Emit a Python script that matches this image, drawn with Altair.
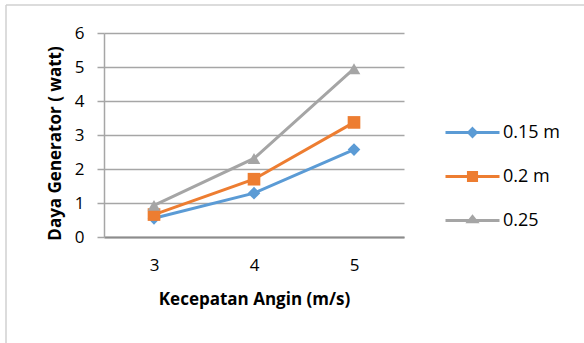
import altair as alt
import pandas as pd

# Wind speed (m/s) and generator power (watt) for three blade sizes
kecepatan = [3, 4, 5]
series_names = ["0.15 m", "0.2 m", "0.25"]
daya_015 = [0.55, 1.29, 2.57]
daya_020 = [0.66, 1.70, 3.37]
daya_025 = [0.93, 2.31, 4.95]
y_ticks = [0, 1, 2, 3, 4, 5, 6]

colors = ["#5b9bd5", "#ed7d31", "#a5a5a5"]
markers = ["diamond", "square", "triangle-up"]
# legend keys: a short line with the series marker in its middle
legend_paths = [
    "M-1,0L1,0M0,-0.14L0.14,0L0,0.14L-0.14,0Z",
    "M-1,0L1,0M-0.15,-0.15L0.15,-0.15L0.15,0.15L-0.15,0.15Z",
    "M-1,0L1,0M0,-0.14L0.15,0.05L-0.15,0.05Z",
]

rows = []
for name, vals, col, mk in zip(series_names, [daya_015, daya_020, daya_025], colors, markers):
    for x, v in zip(kecepatan, vals):
        rows.append({"kecepatan": x, "daya": v, "series": name, "hex": col, "marker": mk})
df = pd.DataFrame(rows)

FONT = "Open Sans"

x_enc = alt.X(
    "kecepatan:O",
    scale=alt.Scale(type="point", padding=0.5),
    axis=alt.Axis(
        title="Kecepatan Angin (m/s)",
        labelAngle=0,
        ticks=False,
        labelPadding=20,
        labelFontSize=17,
        labelColor="#000000",
        labelFont=FONT,
        domainColor="#8c8c8c",
        domainWidth=2,
        grid=False,
        titleFont=FONT,
        titleFontSize=17,
        titleFontWeight="bold",
        titleColor="#000000",
        titleY=62,
        titleBaseline="middle",
    ),
)
y_enc = alt.Y(
    "daya:Q",
    scale=alt.Scale(domain=[0, 6], nice=False),
    axis=alt.Axis(
        title="Daya Generator ( watt)",
        values=y_ticks,
        tickCount=7,
        labelOverlap=False,
        tickSize=7,
        tickColor="#a6a6a6",
        tickWidth=1.5,
        labelPadding=13,
        labelFontSize=17,
        labelColor="#000000",
        labelFont=FONT,
        domainColor="#a6a6a6",
        domainWidth=1.5,
        grid=True,
        gridColor="#a6a6a6",
        gridWidth=1.5,
        titleFont=FONT,
        titleFontSize=17,
        titleFontWeight="bold",
        titleColor="#000000",
        titleX=-49,
        titleY=110,
        titleBaseline="middle",
    ),
)

base = alt.Chart(df)

lines = base.mark_line(strokeWidth=3).encode(
    x=x_enc,
    y=y_enc,
    color=alt.Color("hex:N", scale=None),
    detail="series:N",
)

points = base.mark_point(filled=True, opacity=1, size=160).encode(
    x=x_enc,
    y=y_enc,
    color=alt.Color("hex:N", scale=None),
    shape=alt.Shape("marker:N", scale=None),
)

series_legend = alt.Legend(
    title=None,
    orient="none",
    legendX=340,
    legendY=71,
    padding=0,
    symbolSize=2916,
    symbolStrokeWidth=3,
    symbolOpacity=1,
    labelFont=FONT,
    labelFontSize=18,
    labelColor="#000000",
    labelOffset=2,
    rowPadding=5,
)

legend_layer = base.mark_point(filled=True, opacity=0, strokeWidth=3).encode(
    x=x_enc,
    y=y_enc,
    fill=alt.Fill(
        "series:N",
        scale=alt.Scale(domain=series_names, range=colors),
        legend=series_legend,
    ),
    stroke=alt.Stroke(
        "series:N",
        scale=alt.Scale(domain=series_names, range=colors),
        legend=series_legend,
    ),
    shape=alt.Shape(
        "series:N",
        scale=alt.Scale(domain=series_names, range=legend_paths),
        legend=series_legend,
    ),
)

# outer frame of the chart box (top and left edges)
frame_df = pd.DataFrame({"k": [0]})
frame_top = alt.Chart(frame_df).mark_rule(color="#d0d0d0", strokeWidth=1.5).encode(
    x=alt.value(-98), x2=alt.value(480), y=alt.value(-28)
)
frame_left = alt.Chart(frame_df).mark_rule(color="#d0d0d0", strokeWidth=1.5).encode(
    x=alt.value(-98), y=alt.value(-28), y2=alt.value(310)
)

chart = (
    alt.layer(lines, points, legend_layer, frame_top, frame_left)
    .properties(
        width=300,
        height=204,
        autosize=alt.AutoSizeParams(type="none"),
        padding={"left": 104, "top": 33, "right": 180, "bottom": 106},
        background="#ffffff",
    )
    .configure_view(strokeWidth=0)
)

chart.save("out.html", embed_options={"renderer": "svg", "actions": False})
